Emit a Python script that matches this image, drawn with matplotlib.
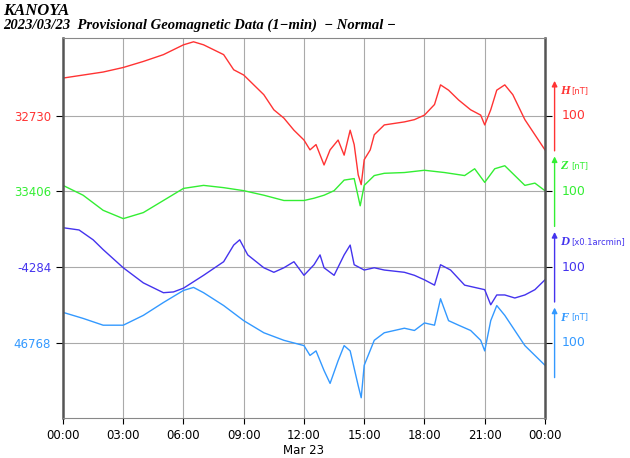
import matplotlib
matplotlib.use("Agg")
import matplotlib.pyplot as plt

h_t = [0,1,2,3,4,5,6,6.5,7,8,8.5,9,10,10.5,11,11.5,12,12.3,12.6,13,13.3,13.7,14,14.3,14.5,14.7,14.85,15,15.3,15.5,16,17,17.5,18,18.5,18.8,19.2,19.7,20.3,20.8,21,21.3,21.6,22,22.4,23,23.5,24]
h_v = [32780,32784,32788,32794,32802,32811,32824,32828,32824,32811,32791,32784,32758,32738,32727,32711,32698,32685,32692,32665,32685,32698,32678,32711,32692,32652,32639,32672,32685,32705,32718,32722,32725,32731,32745,32771,32764,32751,32738,32731,32718,32738,32764,32771,32758,32725,32705,32685]
z_t = [0,1,2,3,4,5,6,7,8,9,10,11,12,12.5,13,13.5,14,14.5,14.8,15,15.5,16,17,18,19,20,20.5,21,21.5,22,23,23.5,24]
z_v = [33414,33401,33381,33370,33378,33394,33410,33414,33411,33407,33401,33394,33394,33397,33401,33407,33421,33423,33387,33414,33427,33430,33431,33434,33431,33427,33436,33418,33436,33440,33414,33417,33407]
d_t = [0,0.8,1.5,2,3,4,5,5.5,6,7,8,8.5,8.8,9.2,10,10.5,11,11.5,12,12.5,12.8,13,13.5,14,14.3,14.5,15,15.5,16,17,17.5,18,18.5,18.8,19.3,20,21,21.3,21.6,22,22.5,23,23.5,24]
d_v = [-4232,-4235,-4248,-4261,-4285,-4305,-4318,-4317,-4312,-4295,-4277,-4255,-4248,-4268,-4285,-4291,-4285,-4277,-4295,-4281,-4268,-4285,-4295,-4268,-4255,-4281,-4288,-4285,-4288,-4291,-4295,-4301,-4308,-4281,-4288,-4308,-4314,-4334,-4321,-4321,-4325,-4321,-4314,-4301]
f_t = [0,1,2,3,4,5,6,6.5,7,8,9,10,11,12,12.3,12.6,13,13.3,13.7,14,14.3,14.5,14.7,14.85,15,15.5,16,17,17.5,18,18.5,18.8,19.2,19.7,20.3,20.8,21,21.3,21.6,22,22.5,23,23.5,24]
f_v = [46808,46800,46791,46791,46804,46821,46837,46841,46834,46817,46797,46781,46771,46764,46751,46757,46731,46714,46744,46764,46757,46734,46711,46695,46738,46771,46781,46787,46784,46794,46791,46826,46797,46791,46784,46771,46757,46797,46817,46804,46784,46764,46751,46738]

series = [("H", "[nT]", h_t, h_v, 32730, 400, "#ff3333"),
          ("Z", "[nT]", z_t, z_v, 33406, 300, "#33ee33"),
          ("D", "[x0.1arcmin]", d_t, d_v, -4284, 200, "#4433ee"),
          ("F", "[nT]", f_t, f_v, 46768, 100, "#3399ff")]
xlabels = ["00:00","03:00","06:00","09:00","12:00","15:00","18:00","21:00","00:00"]

fig = plt.figure(figsize=(6.3, 4.58), dpi=100)
ax = fig.add_axes([0.1, 0.087, 0.765, 0.83])
ax.set_xlim(0, 24)
ax.set_ylim(0, 503)
for name, unit, t, v, base, off, c in series:
    ax.plot(t, [x - base + off for x in v], color=c, lw=1)
    ax.axhline(off, color="#aaaaaa", lw=0.8, zorder=0)
    ax.annotate("", xy=(1.02, off + 50), xytext=(1.02, off - 50),
                xycoords=("axes fraction", "data"), textcoords=("axes fraction", "data"),
                arrowprops=dict(arrowstyle="-|>", color=c, lw=1, mutation_scale=8), annotation_clip=False)
    ax.text(1.032, off + 33, name, transform=ax.get_yaxis_transform(), color=c,
            fontsize=9, family="Liberation Serif", weight="bold", style="italic", va="center")
    ax.text(1.054, off + 34, unit, transform=ax.get_yaxis_transform(), color=c, fontsize=6, va="center")
    ax.text(1.035, off, "100", transform=ax.get_yaxis_transform(), color=c, fontsize=9, va="center")
ax.set_yticks([s[5] for s in series])
ax.set_yticklabels([str(s[4]) for s in series])
for lab, s in zip(ax.get_yticklabels(), series):
    lab.set_color(s[6])
ax.set_xticks(range(0, 25, 3))
ax.set_xticklabels(xlabels)
ax.tick_params(labelsize=8.5, length=4, direction="out")
ax.tick_params(axis="y", right=True, length=5)
for x in range(3, 24, 3):
    ax.axvline(x, color="#aaaaaa", lw=0.8, zorder=0)
for s in ["left", "right"]:
    ax.spines[s].set_color("#555555"); ax.spines[s].set_linewidth(1.8)
for s in ["top", "bottom"]:
    ax.spines[s].set_color("#888888")
fig.text(0.5 * 0.765 + 0.1, 0.003, "Mar 23", ha="center", va="bottom", fontsize=8.5)
fig.text(0.005, 0.977, "KANOYA", family="Liberation Serif", weight="bold", style="italic", fontsize=12, va="center")
fig.text(0.005, 0.945, "2023/03/23  Provisional Geomagnetic Data (1\u2212min)  \u2212 Normal \u2212",
         family="Liberation Serif", weight="bold", style="italic", fontsize=10.5, va="center")
fig.savefig("out.png", dpi=100)
